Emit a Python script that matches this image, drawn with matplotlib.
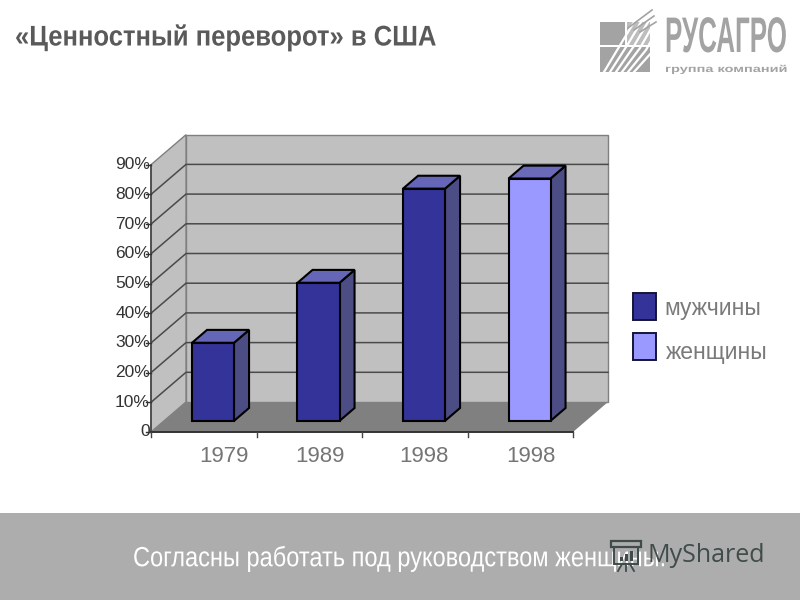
import matplotlib
matplotlib.use('Agg')
import matplotlib.pyplot as plt
from matplotlib.patches import Polygon, Rectangle
from matplotlib.patheffects import AbstractPathEffect
from matplotlib.transforms import Affine2D
import numpy as np

title = '«Ценностный переворот» в США'
caption = 'Согласны работать под руководством женщины.'
categories = ['1979', '1989', '1998', '1998']
values = [26.3, 46.5, 78.2, 81.6]
y_ticks = [0, 10, 20, 30, 40, 50, 60, 70, 80, 90]
y_labels = ['0', '10%', '20%', '30%', '40%', '50%', '60%', '70%', '80%', '90%']
legend_names = ['мужчины', 'женщины']
bar_front = ['#333399', '#333399', '#333399', '#9999FF']
bar_top = ['#6666B8', '#6666B8', '#6666B8', '#6A6AB8']
bar_side = '#4D4D85'

SANS = ['Liberation Sans', 'DejaVu Sans']


class Squeeze(AbstractPathEffect):
    # scales a text horizontally, the installed fonts have no narrow cut
    def __init__(self, x_from, x_to, sx):
        super().__init__()
        self.move = Affine2D().translate(-x_from, 0).scale(sx, 1).translate(x_to, 0)

    def draw_path(self, renderer, gc, tpath, affine, rgbFace=None):
        renderer.draw_path(gc, tpath, affine + self.move, rgbFace)


fig = plt.figure(figsize=(8, 6), dpi=100, facecolor='white')


def fit_width(t, x_left, x_right):
    bb = t.get_window_extent(fig.canvas.get_renderer())
    t.set_path_effects([Squeeze(bb.x0, x_left, (x_right - x_left) / bb.width)])


# background layer in pixels: banner, logo, texts
deco = fig.add_axes([0, 0, 1, 1], zorder=0)
deco.set_xlim(0, 800)
deco.set_ylim(600, 0)
deco.axis('off')

# chart layer: x in categories, y in percent, placed on the front plane
px_cat = 105.5
px_pct = 2.97
ax = fig.add_axes([0, 0, 1, 1], zorder=1)
ax.patch.set_alpha(0)
ax.set_xlim(-151 / px_cat, (800 - 151) / px_cat)
ax.set_ylim(-(600 - 432) / px_pct, 432 / px_pct)
ax.axis('off')

depth_x = 35 / px_cat
depth_y = 30 / px_pct


def project(x, y, z):
    # z = 0 front plane, z = 1 back wall
    return (x + z * depth_x, y + z * depth_y)


def face(points, color, edge='none', lw=0, zorder=2):
    ax.add_patch(Polygon([project(*p) for p in points], closed=True, facecolor=color,
                         edgecolor=edge, linewidth=lw, joinstyle='miter', zorder=zorder))


n = len(categories)
top = y_ticks[-1]

# walls and floor
face([(0, 0, 1), (n, 0, 1), (n, top, 1), (0, top, 1)], '#C0C0C0', '#808080', 1)
face([(0, 0, 0), (0, 0, 1), (0, top, 1), (0, top, 0)], '#C0C0C0', '#808080', 1)
face([(0, 0, 0), (n, 0, 0), (n, 0, 1), (0, 0, 1)], '#808080')

# gridlines
for t in y_ticks[1:-1]:
    xs, ys = zip(project(0, t, 0), project(0, t, 1), project(n, t, 1))
    ax.plot(xs, ys, color='#4A4A4A', lw=1.1, zorder=3)

# axes
ax.plot([0, 0], [0, top], color='#444444', lw=1.2, zorder=3)
ax.plot([0, n], [0, 0], color='#333333', lw=1.4, zorder=3)
for t, lab in zip(y_ticks, y_labels):
    ax.plot([-5 / px_cat, 0], [t, t], color='#333333', lw=1, zorder=3)
    ax.text(-1 / px_cat, t, lab, ha='right', va='center', fontsize=12.5,
            color='#333333', family=SANS, zorder=6)
for i in range(n + 1):
    ax.plot([i, i], [0, -5 / px_pct], color='#444444', lw=1, zorder=3)

# 3d bars
bar_w = 42 / px_cat
z0, z1 = 0.37, 0.80
label_x = [224, 320, 424, 531]
for i, (v, name) in enumerate(zip(values, categories)):
    left = i + 0.5 - bar_w / 2 - 3.7 / px_cat
    right = left + bar_w
    kw = dict(edge='black', lw=1.5, zorder=4)
    face([(right, 0, z0), (right, 0, z1), (right, v, z1), (right, v, z0)], bar_side, **kw)
    face([(left, v, z0), (right, v, z0), (right, v, z1), (left, v, z1)], bar_top[i], **kw)
    face([(left, 0, z0), (right, 0, z0), (right, v, z0), (left, v, z0)], bar_front[i], **kw)
    deco.text(label_x[i], 456, name, ha='center', va='center', fontsize=16,
              color='#757575', family=SANS)

# legend
legend_y = [293, 333]
legend_tx = [664, 666]
legend_ty = [309, 352]
for name, y0, tx, ty, col in zip(legend_names, legend_y, legend_tx, legend_ty, ['#333399', '#9999FF']):
    deco.add_patch(Rectangle((633, y0), 23, 27, facecolor=col, edgecolor='#15153A', lw=1.4))
    deco.text(tx, ty, name, ha='left', va='center', fontsize=16.5,
              color='#7A7A7A', family=SANS)

# title
t_title = deco.text(15, 38, title, ha='left', va='center', fontsize=20.5, fontweight='bold',
                    color='#5A5A5A', family=SANS)
fit_width(t_title, 15, 437)

# bottom banner
deco.add_patch(Rectangle((0, 513), 800, 87, facecolor='#ADADAD', edgecolor='none'))
t_caption = deco.text(133, 559, caption, ha='left', va='center', fontsize=20,
                      color='white', family=SANS)
fit_width(t_caption, 133, 665)

# watermark
wm = '#3F4C4A'
deco.text(647, 555, 'MyShared', ha='left', va='center', fontsize=18,
          color=wm, family=['Open Sans', 'DejaVu Sans'], zorder=5)
deco.add_patch(Rectangle((611, 541), 30, 6, facecolor='none', edgecolor=wm, lw=1.6, zorder=5))
deco.add_patch(Rectangle((614, 547), 24, 17, facecolor='none', edgecolor=wm, lw=1.4, zorder=5))
for bx, bh in zip([620, 625, 630], [4, 7, 10]):
    deco.add_patch(Rectangle((bx, 561 - bh), 3, bh, facecolor=wm, edgecolor='none', zorder=5))
for x0, x1 in [(622, 618), (626, 626), (630, 634)]:
    deco.plot([x0, x1], [564, 571], color=wm, lw=1.3, zorder=5)

# logo
logo = '#A3A3A3'
deco.add_patch(Rectangle((600, 22), 25, 23, facecolor=logo, edgecolor='none'))
deco.add_patch(Rectangle((627, 22), 23, 23, facecolor='#BDBDBD', edgecolor='none'))
deco.add_patch(Rectangle((600, 47), 50, 25, facecolor=logo, edgecolor='none'))
for k in range(6):
    xs = np.array([604 + k * 6, 622 + k * 6, 640 + k * 4])
    ys = np.array([72, 42 + k * 2, 12 + k * 5])
    deco.plot(xs, ys, color='white', lw=1.6, zorder=2)
for k in range(3):
    deco.plot([628 + k * 6, 652 + k * 2], [28 + k * 2, 10 + k * 6], color=logo, lw=1.2, zorder=3)
# right aligned so the unsqueezed text box stays inside the figure
t_logo = deco.text(787, 39, 'РУСАГРО', ha='right', va='center', fontsize=36, fontweight='bold',
                   color=logo, family=SANS)
fit_width(t_logo, 665, 787)
t_sub = deco.text(665, 69, 'группа компаний', ha='left', va='center', fontsize=7, fontweight='bold',
                  color=logo, family=SANS)
fit_width(t_sub, 665, 787)

fig.savefig('out.png', dpi=100, facecolor='white')
